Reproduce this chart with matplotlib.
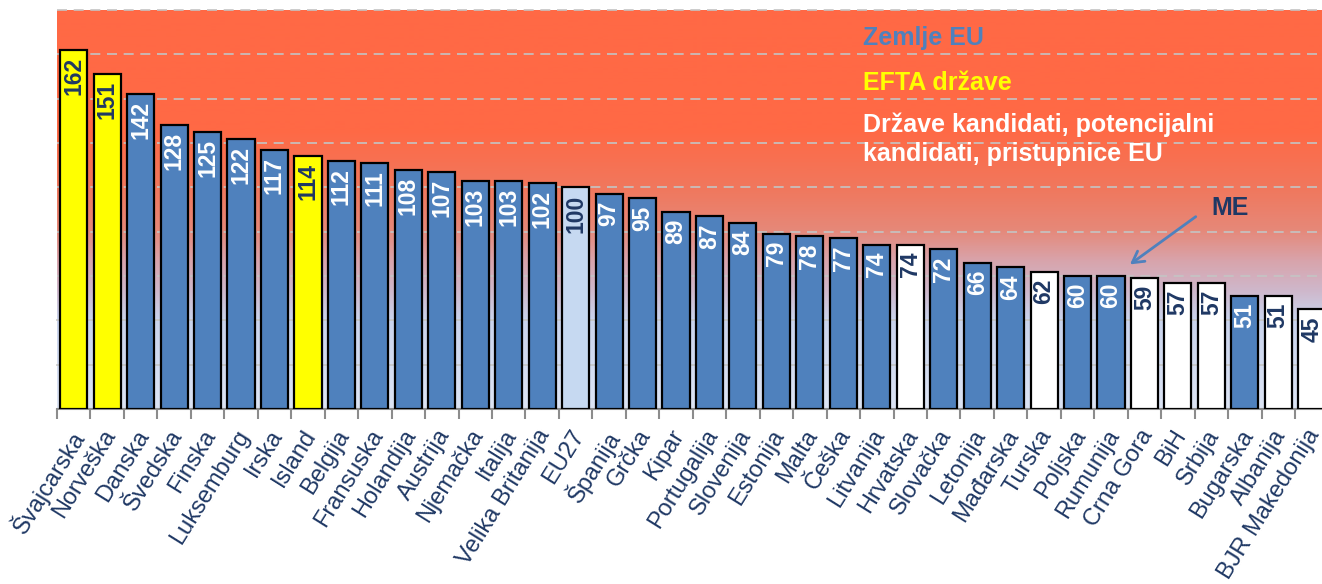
import numpy as np
import matplotlib
matplotlib.use("Agg")
from matplotlib import pyplot as plt
from matplotlib.colors import LinearSegmentedColormap
from matplotlib.transforms import ScaledTranslation

plt.rcParams['font.family'] = ['Liberation Sans', 'DejaVu Sans']

# podaci
countries = ["Švajcarska", "Norveška", "Danska", "Švedska", "Finska", "Luksemburg",
             "Irska", "Island", "Belgija", "Fransuska", "Holandija", "Austrija",
             "Njemačka", "Italija", "Velika Britanija", "EU27", "Španija", "Grčka",
             "Kipar", "Portugalija", "Slovenija", "Estonija", "Malta", "Češka",
             "Litvanija", "Hrvatska", "Slovačka", "Letonija", "Mađarska", "Turska",
             "Poljska", "Rumunija", "Crna Gora", "BiH", "Srbija", "Bugarska",
             "Albanija", "BJR Makedonija"]
values = [162, 151, 142, 128, 125, 122, 117, 114, 112, 111, 108, 107, 103, 103,
          102, 100, 97, 95, 89, 87, 84, 79, 78, 77, 74, 74, 72, 66, 64, 62, 60,
          60, 59, 57, 57, 51, 51, 45]
groups = ["efta", "efta", "eu", "eu", "eu", "eu", "eu", "efta", "eu", "eu", "eu",
          "eu", "eu", "eu", "eu", "eu27", "eu", "eu", "eu", "eu", "eu", "eu", "eu",
          "eu", "eu", "cand", "eu", "eu", "eu", "cand", "eu", "eu", "cand", "cand",
          "cand", "eu", "cand", "cand"]

NAVY = "#1F3864"
BLUE = "#4F81BD"
fill = {"efta": "#FFFF00", "eu": BLUE, "eu27": "#C6D9F1", "cand": "#FFFFFF"}
txtc = {"efta": NAVY, "eu": "#FFFFFF", "eu27": NAVY, "cand": NAVY}

fig = plt.figure(figsize=(13.22, 5.84), dpi=100)
ax = fig.add_axes([57 / 1322, 175 / 584, 38 * 33.46 / 1322, 399 / 584])

n = len(countries)
x = np.arange(n)

# pozadina - gradijent
stops = [(0.0, "#DDE5F5"), (0.222, "#C9D3EC"), (0.30, "#CFB6C9"), (0.37, "#D8A4AC"),
         (0.45, "#E68878"), (0.55, "#F0785E"), (0.70, "#FF6945"), (1.0, "#FF6945")]
cmap = LinearSegmentedColormap.from_list("bg", stops)
grad = np.linspace(0, 1, 400).reshape(-1, 1)
ax.imshow(grad, cmap=cmap, origin="lower", extent=[-0.5, n - 0.5, 0, 180],
          aspect="auto", zorder=0)

for g in range(20, 181, 20):
    ls = "-" if g <= 40 else (0, (6, 4))
    ax.axhline(g, color="#C4C4C4", lw=1.2, ls=ls, zorder=1, clip_on=False)

ax.bar(x, values, width=0.81, color=[fill[g] for g in groups],
       edgecolor="black", linewidth=1.6, zorder=3)

for xi, v, g in zip(x, values, groups):
    ax.annotate(str(v), (xi, v), xytext=(0, -5), textcoords="offset points",
                rotation=90, ha="center", va="top", fontsize=16.5,
                fontweight="bold", color=txtc[g], zorder=4)

ax.set_xlim(-0.5, n - 0.5)
ax.set_ylim(0, 180)
ax.set_yticks([])
for s in ["left", "right", "top"]:
    ax.spines[s].set_visible(False)
ax.spines["bottom"].set_color("#8C8C8C")
ax.spines["bottom"].set_linewidth(1.5)

ax.set_xticks(np.arange(n + 1) - 0.5, minor=True)
ax.tick_params(axis="x", which="minor", length=7, width=1.5, color="#8C8C8C")
ax.tick_params(axis="x", which="major", length=0, pad=12)
ax.set_xticks(x)
ax.set_xticklabels(countries, rotation=58, ha="right", rotation_mode="anchor",
                   fontsize=17, color=NAVY)
shift = ScaledTranslation(-6 / 100, 0, fig.dpi_scale_trans)
for lbl in ax.get_xticklabels():
    lbl.set_transform(lbl.get_transform() + shift)

# legenda kao tekst
ax.text(23.6, 164, "Zemlje EU", color=BLUE, fontsize=18, fontweight="bold")
ax.text(23.6, 144, "EFTA države", color="#FFFF00", fontsize=18, fontweight="bold")
ax.text(23.6, 112, "Države kandidati, potencijalni\nkandidati, pristupnice EU",
        color="white", fontsize=18, fontweight="bold", linespacing=1.25)

ax.annotate("", xy=(31.5, 64.5), xytext=(33.6, 87.5),
            arrowprops=dict(arrowstyle="->,head_length=0.8,head_width=0.45",
                            color=BLUE, lw=2))
ax.text(34.55, 90.5, "ME", color=NAVY, fontsize=18, fontweight="bold",
        ha="center", va="center")

fig.savefig("out.png", dpi=100)
